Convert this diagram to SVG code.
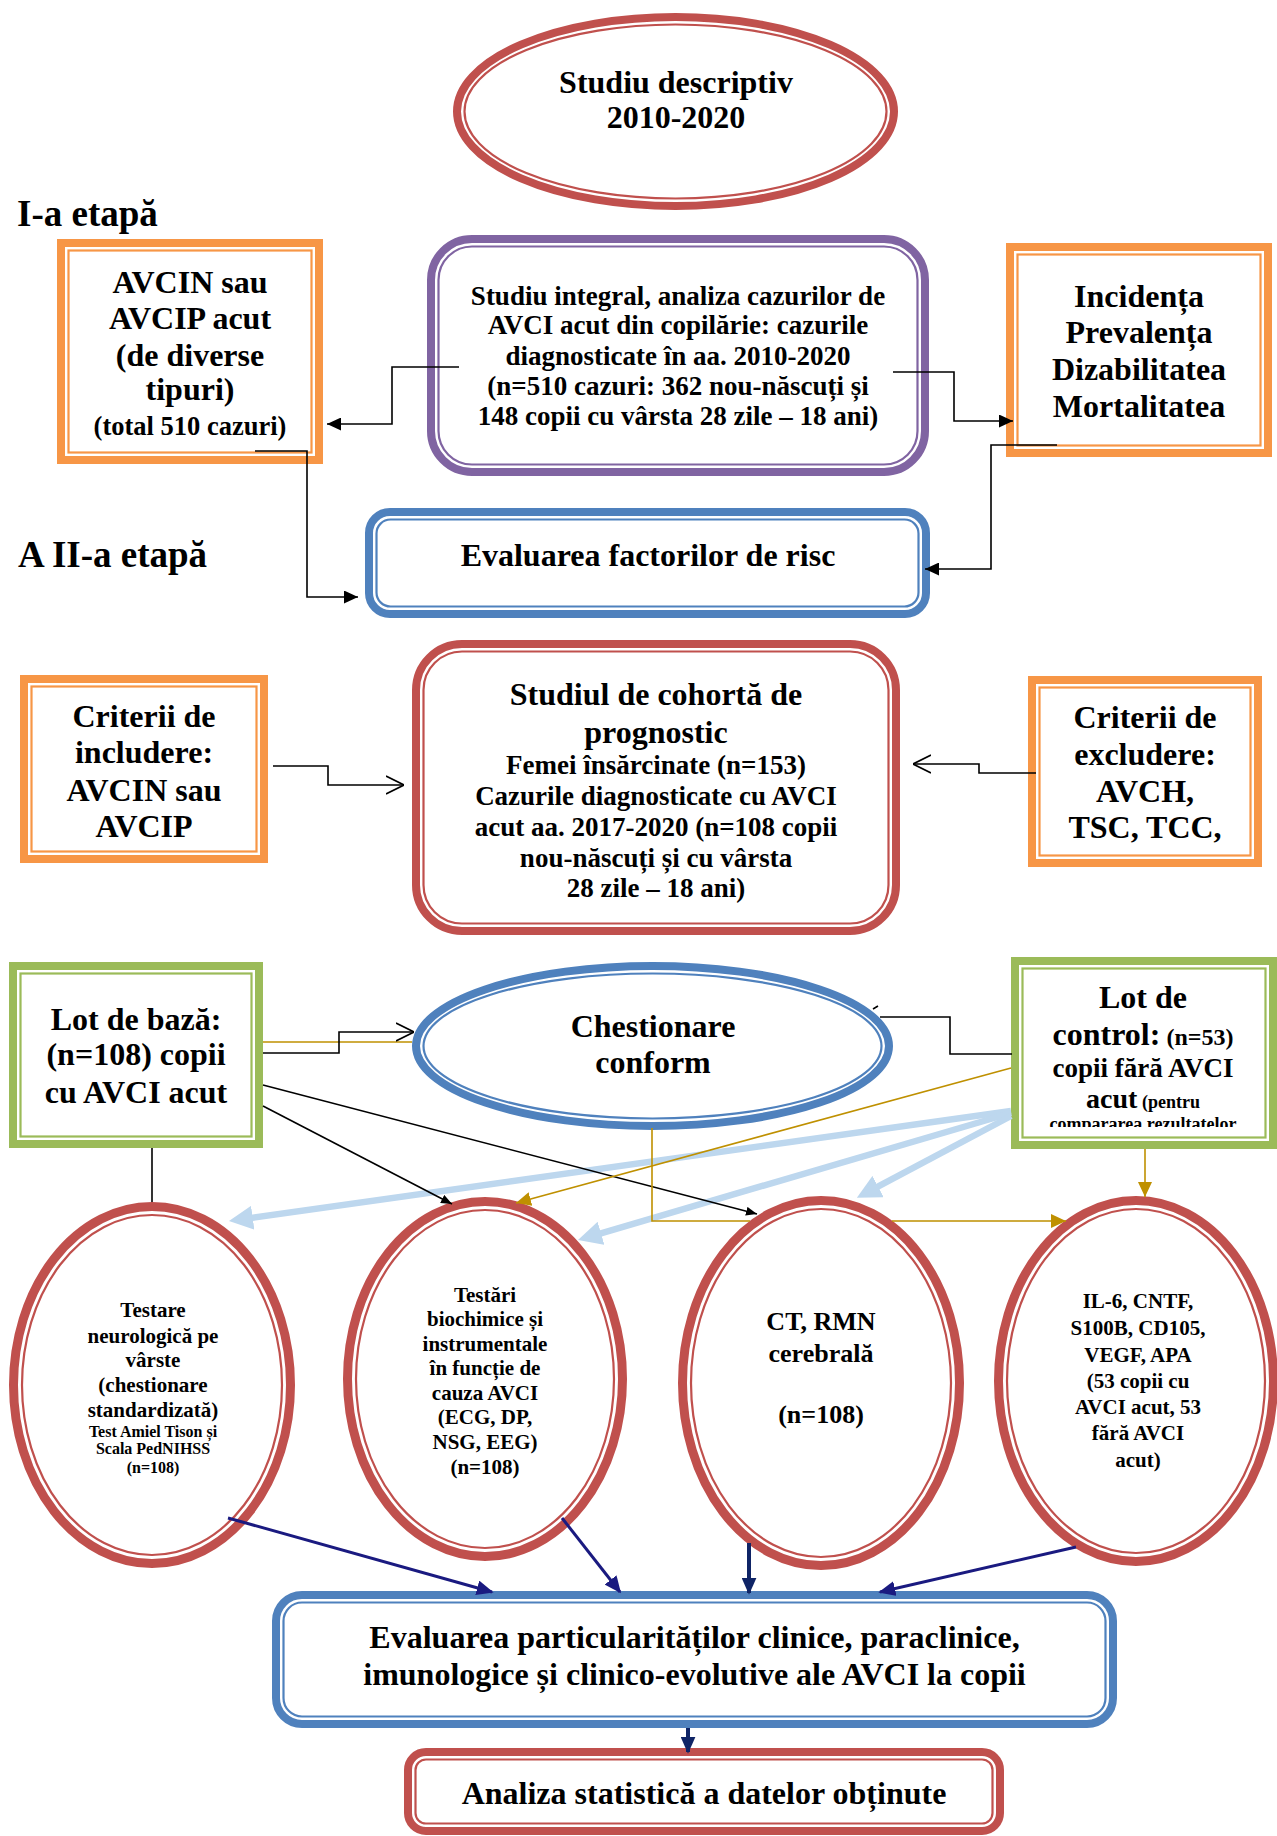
<svg xmlns="http://www.w3.org/2000/svg" width="1277" height="1836" viewBox="0 0 1277 1836">
<style>
text{font-family:"Liberation Serif","Times New Roman",serif;font-weight:bold;fill:#000;text-anchor:middle}
.l{text-anchor:start}
.f37{font-size:37px}.f32{font-size:32px}.f28{font-size:28px}.f27{font-size:27px}.f26{font-size:26px}.f24{font-size:24px}.f21{font-size:21px}.f18{font-size:18px}.f16{font-size:16px}
.thk{fill:#fff;stroke-width:8}
.thk9{fill:#fff;stroke-width:9}
.thn{fill:none;stroke-width:2.2}
.red{stroke:#C0504D}.org{stroke:#F79646}.pur{stroke:#8064A2}.blu{stroke:#4F81BD}.grn{stroke:#9BBB59}
.ln{fill:none;stroke:#000;stroke-width:1.6}
.gd{fill:none;stroke:#BF9000;stroke-width:1.6}
.lb{fill:none;stroke:#BDD7EE;stroke-width:6.5}
.nv{fill:none;stroke:#1A1A80;stroke-width:3}
.nv2{fill:none;stroke:#0F2466;stroke-width:4}
</style>
<defs>
<marker id="mB" viewBox="0 0 10 10" refX="10" refY="5" markerWidth="14" markerHeight="13" markerUnits="userSpaceOnUse" orient="auto" preserveAspectRatio="none"><path d="M0,0L10,5L0,10z" fill="#000"/></marker>
<marker id="mBs" viewBox="0 0 10 10" refX="10" refY="5" markerWidth="11" markerHeight="9" markerUnits="userSpaceOnUse" orient="auto" preserveAspectRatio="none"><path d="M0,0L10,5L0,10z" fill="#000"/></marker>
<marker id="mO" viewBox="0 0 10 10" refX="10" refY="5" markerWidth="18" markerHeight="20" markerUnits="userSpaceOnUse" orient="auto" preserveAspectRatio="none"><path d="M0,0.5L10,5L0,9.5" fill="none" stroke="#000" stroke-width="0.9"/></marker>
<marker id="mG" viewBox="0 0 10 10" refX="10" refY="5" markerWidth="15" markerHeight="14" markerUnits="userSpaceOnUse" orient="auto" preserveAspectRatio="none"><path d="M0,0L10,5L0,10z" fill="#BF9000"/></marker>
<marker id="mL" viewBox="0 0 10 10" refX="3" refY="5" markerWidth="24" markerHeight="24" markerUnits="userSpaceOnUse" orient="auto" preserveAspectRatio="none"><path d="M0,0L10,5L0,10z" fill="#BDD7EE"/></marker>
<marker id="mN" viewBox="0 0 10 10" refX="9" refY="5" markerWidth="17" markerHeight="15" markerUnits="userSpaceOnUse" orient="auto" preserveAspectRatio="none"><path d="M0,0L10,5L0,10z" fill="#1A1A80"/></marker>
<marker id="mN2" viewBox="0 0 10 10" refX="9" refY="5" markerWidth="17" markerHeight="15" markerUnits="userSpaceOnUse" orient="auto" preserveAspectRatio="none"><path d="M0,0L10,5L0,10z" fill="#0F2466"/></marker>
<clipPath id="clipCtl"><rect x="1024" y="960" width="240" height="167"/></clipPath>
</defs>
<rect width="1277" height="1836" fill="#fff"/>

<text class="l f37" x="17" y="226">I-a etapă</text>
<text class="l f37" x="18" y="567">A II-a etapă</text>

<g id="n-studiu-descriptiv">
<ellipse class="thk red" cx="675.5" cy="111.5" rx="218.5" ry="94.5"/>
<ellipse class="thn red" cx="675.5" cy="111.5" rx="211" ry="87"/>
<text class="f32" x="676" y="93">Studiu descriptiv</text>
<text class="f32" x="676" y="128">2010-2020</text>
</g>

<g id="n-avcin">
<rect class="thk org" x="61" y="243" width="258" height="217"/>
<rect class="thn org" x="68.5" y="250.5" width="243" height="202"/>
<text class="f32" x="190" y="293">AVCIN sau</text>
<text class="f32" x="190" y="329">AVCIP acut</text>
<text class="f32" x="190" y="366">(de diverse</text>
<text class="f32" x="190" y="400">tipuri)</text>
<text class="f26" x="190" y="435" style="font-size:26.5px">(total 510 cazuri)</text>
</g>

<g id="n-studiu-integral">
<rect class="thk pur" x="431" y="239" width="494" height="233" rx="41"/>
<rect class="thn pur" x="438.5" y="246.5" width="479" height="218" rx="33.5"/>
<text class="f27" x="678" y="305">Studiu integral, analiza cazurilor de</text>
<text class="f27" x="678" y="334">AVCI acut din copilărie: cazurile</text>
<text class="f27" x="678" y="365">diagnosticate în aa. 2010-2020</text>
<text class="f27" x="678" y="395">(n=510 cazuri: 362 nou-născuți și</text>
<text class="f27" x="678" y="425">148 copii cu vârsta 28 zile – 18 ani)</text>
</g>

<g id="n-incidenta">
<rect class="thk org" x="1010" y="247" width="258" height="206"/>
<rect class="thn org" x="1017.5" y="254.5" width="243" height="191"/>
<text class="f32" x="1139" y="307">Incidența</text>
<text class="f32" x="1139" y="343">Prevalența</text>
<text class="f32" x="1139" y="380">Dizabilitatea</text>
<text class="f32" x="1139" y="417">Mortalitatea</text>
</g>

<g id="n-factori-risc">
<rect class="thk blu" x="369" y="512" width="557" height="102" rx="21"/>
<rect class="thn blu" x="376.5" y="519.5" width="542" height="87" rx="14"/>
<text class="f32" x="648" y="566">Evaluarea factorilor de risc</text>
</g>

<g id="n-includere">
<rect class="thk org" x="24" y="679" width="240" height="180"/>
<rect class="thn org" x="31.5" y="686.5" width="225" height="165"/>
<text class="f32" x="144" y="727">Criterii de</text>
<text class="f32" x="144" y="763">includere:</text>
<text class="f32" x="144" y="801">AVCIN sau</text>
<text class="f32" x="144" y="837">AVCIP</text>
</g>

<g id="n-cohorta">
<rect class="thk red" x="416" y="644" width="480" height="287" rx="46"/>
<rect class="thn red" x="423.5" y="651.5" width="465" height="272" rx="38.5"/>
<text class="f32" x="656" y="705">Studiul de cohortă de</text>
<text class="f32" x="656" y="743">prognostic</text>
<text class="f27" x="656" y="774">Femei însărcinate (n=153)</text>
<text class="f27" x="656" y="805">Cazurile diagnosticate cu AVCI</text>
<text class="f27" x="656" y="836">acut aa. 2017-2020 (n=108 copii</text>
<text class="f27" x="656" y="867">nou-născuți și cu vârsta</text>
<text class="f27" x="656" y="897">28 zile – 18 ani)</text>
</g>

<g id="n-excludere">
<rect class="thk org" x="1032" y="680" width="226" height="183"/>
<rect class="thn org" x="1039.5" y="687.5" width="211" height="168"/>
<text class="f32" x="1145" y="728">Criterii de</text>
<text class="f32" x="1145" y="765">excludere:</text>
<text class="f32" x="1145" y="802">AVCH,</text>
<text class="f32" x="1145" y="838">TSC, TCC,</text>
</g>

<g id="n-lot-baza">
<rect class="thk grn" x="13" y="966" width="246" height="178"/>
<rect class="thn grn" x="20.5" y="973.5" width="231" height="163"/>
<text class="f32" x="136" y="1030">Lot de bază:</text>
<text class="f32" x="136" y="1065">(n=108) copii</text>
<text class="f32" x="136" y="1103">cu AVCI acut</text>
</g>

<g id="n-chestionare">
<ellipse class="thk blu" cx="652.5" cy="1046" rx="236.5" ry="80"/>
<ellipse class="thn blu" cx="652.5" cy="1046" rx="229" ry="72.5"/>
<text class="f32" x="653" y="1037">Chestionare</text>
<text class="f32" x="653" y="1073">conform</text>
</g>

<g id="n-lot-control">
<rect class="thk grn" x="1015" y="961" width="258" height="184"/>
<rect class="thn grn" x="1022.5" y="968.5" width="243" height="169"/>
<g clip-path="url(#clipCtl)">
<text class="f32" x="1143" y="1008">Lot de</text>
<text class="f32" x="1143" y="1045">control:<tspan class="f24"> (n=53)</tspan></text>
<text class="f27" x="1143" y="1077">copii fără AVCI</text>
<text class="f28" x="1143" y="1108">acut<tspan class="f18"> (pentru</tspan></text>
<text class="f18" x="1143" y="1130">compararea rezultatelor</text>
</g>
</g>

<g id="n-testare-neuro">
<ellipse class="thk9 red" cx="152" cy="1385" rx="138.5" ry="178.5"/>
<ellipse class="thn red" cx="152" cy="1385" rx="130" ry="170"/>
<text class="f21" x="153" y="1317">Testare</text>
<text class="f21" x="153" y="1343">neurologică pe</text>
<text class="f21" x="153" y="1367">vârste</text>
<text class="f21" x="153" y="1392">(chestionare</text>
<text class="f21" x="153" y="1417">standardizată)</text>
<text class="f16" x="153" y="1437">Test Amiel Tison și</text>
<text class="f16" x="153" y="1454">Scala PedNIHSS</text>
<text class="f16" x="153" y="1473">(n=108)</text>
</g>

<g id="n-testari-biochimice">
<ellipse class="thk9 red" cx="485" cy="1379" rx="137.5" ry="177.5"/>
<ellipse class="thn red" cx="485" cy="1379" rx="129" ry="169"/>
<text class="f21" x="485" y="1302">Testări</text>
<text class="f21" x="485" y="1326">biochimice și</text>
<text class="f21" x="485" y="1351">instrumentale</text>
<text class="f21" x="485" y="1375">în funcție de</text>
<text class="f21" x="485" y="1400">cauza AVCI</text>
<text class="f21" x="485" y="1424">(ECG, DP,</text>
<text class="f21" x="485" y="1449">NSG, EEG)</text>
<text class="f21" x="485" y="1474">(n=108)</text>
</g>

<g id="n-ct-rmn">
<ellipse class="thk9 red" cx="821" cy="1383" rx="138.5" ry="182.5"/>
<ellipse class="thn red" cx="821" cy="1383" rx="130" ry="174"/>
<text class="f26" x="821" y="1330">CT, RMN</text>
<text class="f26" x="821" y="1362">cerebrală</text>
<text class="f26" x="821" y="1423">(n=108)</text>
</g>

<g id="n-il6">
<ellipse class="thk9 red" cx="1136" cy="1381" rx="137.5" ry="180.5"/>
<ellipse class="thn red" cx="1136" cy="1381" rx="129" ry="172"/>
<text class="f21" x="1138" y="1308">IL-6, CNTF,</text>
<text class="f21" x="1138" y="1335">S100B, CD105,</text>
<text class="f21" x="1138" y="1362">VEGF, APA</text>
<text class="f21" x="1138" y="1388">(53 copii cu</text>
<text class="f21" x="1138" y="1414">AVCI acut, 53</text>
<text class="f21" x="1138" y="1440">fără AVCI</text>
<text class="f21" x="1138" y="1467">acut)</text>
</g>

<g id="n-evaluarea-particularitatilor">
<rect class="thk blu" x="276" y="1595" width="837" height="129" rx="26"/>
<rect class="thn blu" x="283.5" y="1602.5" width="822" height="114" rx="18.5"/>
<text class="f32" x="694.5" y="1648">Evaluarea particularităților clinice, paraclinice,</text>
<text class="f32" x="694.5" y="1685">imunologice și clinico-evolutive ale AVCI la copii</text>
</g>

<g id="n-analiza">
<rect class="thk red" x="408" y="1752" width="592" height="79" rx="18"/>
<rect class="thn red" x="415.5" y="1759.5" width="577" height="64" rx="10.5"/>
<text class="f32" x="704" y="1804">Analiza statistică a datelor obținute</text>
</g>

<g id="connectors">
<path class="ln" d="M459,367H392V424H327" marker-end="url(#mB)"/>
<path class="ln" d="M893,372H954V421H1013" marker-end="url(#mB)"/>
<path class="ln" d="M255,451H307V597H358" marker-end="url(#mB)"/>
<path class="ln" d="M1057,445H991V569H925" marker-end="url(#mB)"/>
<path class="ln" d="M273,766H328V785H404" marker-end="url(#mO)"/>
<path class="ln" d="M1036,773H979V764H913" marker-end="url(#mO)"/>

<path class="lb" d="M1011,1111L245.6,1218.7" marker-end="url(#mL)"/>
<path class="lb" d="M1011,1113L594.1,1235.3" marker-end="url(#mL)"/>
<path class="lb" d="M1011,1116L871.7,1189.9" marker-end="url(#mL)"/>

<path class="gd" d="M263,1042H412"/>
<path class="ln" d="M263,1053H339V1032H414" marker-end="url(#mO)"/>
<path class="ln" d="M1012,1054H950V1017H880M873,1009L878,1006"/>
<path class="ln" d="M263,1106L452,1204" marker-end="url(#mBs)"/>
<path class="ln" d="M263,1085L757,1214" marker-end="url(#mBs)"/>
<path class="ln" d="M152,1148V1202"/>
<path class="gd" d="M652,1128V1221H750M892,1221H1066" marker-end="url(#mG)"/>
<path class="gd" d="M1011,1068L516,1203" marker-end="url(#mG)"/>
<path class="gd" d="M1145,1149V1197" marker-end="url(#mG)"/>

<path class="nv" d="M228,1518L492,1592" marker-end="url(#mN)"/>
<path class="nv" d="M562,1518L620,1592" marker-end="url(#mN)"/>
<path class="nv2" d="M749,1543V1593" marker-end="url(#mN2)"/>
<path class="nv" d="M1076,1547L880,1592" marker-end="url(#mN)"/>
<path class="nv2" d="M688,1728V1752" marker-end="url(#mN2)"/>
</g>
</svg>
